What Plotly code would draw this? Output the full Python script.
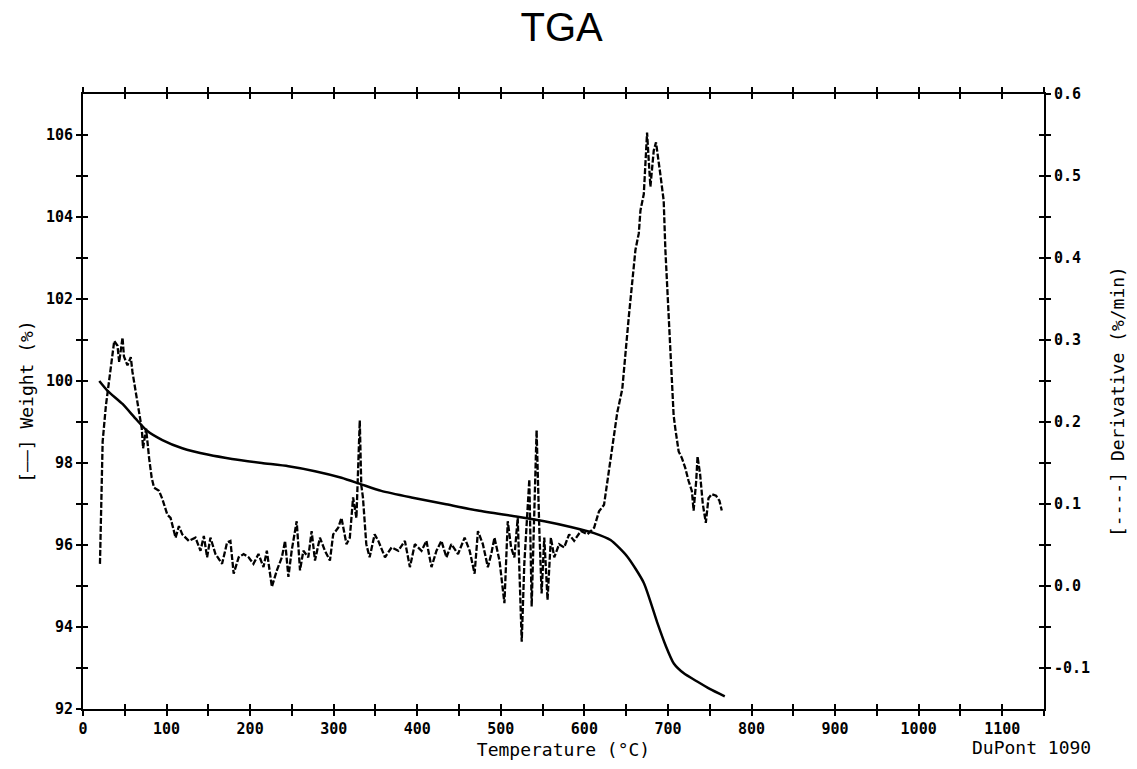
import plotly.graph_objects as go

# ---------------- data ----------------
TEMP_W = [19.5, 29.4, 47.3, 63, 77, 95, 118.8, 150.5, 178.3, 214, 245.8, 277.6,
          309.3, 333, 357, 393, 432.9, 472.5, 520.2, 552, 583.7, 611.6, 631.3,
          651.2, 671, 687, 697, 707, 719, 735, 750, 768]
WEIGHT = [100.0, 99.76, 99.44, 99.08, 98.78, 98.56, 98.36, 98.20, 98.10, 98.00,
          97.92, 97.80, 97.64, 97.48, 97.32, 97.16, 97.00, 96.84, 96.69, 96.58,
          96.44, 96.29, 96.12, 95.72, 95.08, 94.12, 93.56, 93.11, 92.87, 92.67,
          92.49, 92.31]

TEMP_D = [20.3, 21.5, 23.5, 27.4, 31.4, 35.4, 37.4, 41.3, 43.3, 47.3, 49, 53.2,
          57.2, 59.2, 63.2, 67.2, 70.3, 71.9, 75.5, 79.1, 82.2, 85, 91, 95, 100.9,
          104.8, 110.8, 114.8, 118.8, 126.7, 134.6, 140.6, 144.6, 148.5, 152.5,
          158.5, 166.4, 172.4, 176.4, 180.3, 186.3, 192.2, 198.2, 204, 210, 216,
          220, 226, 232, 238, 241.8, 245.8, 249.7, 255.7, 259.7, 263.7, 269.6,
          273.6, 277.6, 283.5, 289.5, 295.5, 299.4, 305.4, 309.3, 315.3, 319.3,
          323.2, 327.2, 331.2, 333, 335, 339, 343, 349,
          353.4, 361.4, 369.3, 377.3, 385.2, 391.2, 397.1, 405.1, 411, 417, 423,
          428.9, 434.9, 440.8, 448.8, 456.7, 462.7, 468.6, 472.6, 478.5, 484.5,
          488.5, 492.4, 498.4, 504.3, 508.3, 512.3, 516.2, 520.2, 525, 528.1,
          534.1, 536.9, 540, 542.8, 546, 548.8, 552, 555.9, 559.9, 563.9, 569.8,
          575.8, 581.7, 587.7, 595.7, 603.6, 611.6, 617.5, 623.5, 627.5, 631.4,
          635.4, 639.4, 645.3, 649.2, 653.2, 657.2, 661.1, 665.1, 667.1, 671.1,
          673, 675, 677, 679, 683, 685.7, 690.9, 694.9, 696.9, 699.7, 702.8,
          706.8, 708.8, 712.8, 716.7, 720.7, 724.7, 728.6, 730.7, 733.8, 735.4,
          738.5, 741.7, 745.3, 748.5, 752.5, 757.6, 761.6, 764.4]
DERIV = [0.027, 0.091, 0.176, 0.220, 0.249, 0.281, 0.299, 0.293, 0.273, 0.303,
         0.280, 0.269, 0.279, 0.261, 0.237, 0.212, 0.192, 0.168, 0.192, 0.156,
         0.132, 0.120, 0.116, 0.106, 0.087, 0.083, 0.059, 0.073, 0.063, 0.055,
         0.059, 0.043, 0.061, 0.035, 0.059, 0.039, 0.027, 0.053, 0.055, 0.015,
         0.035, 0.039, 0.035, 0.027, 0.039, 0.023, 0.043, -0.001, 0.019, 0.035,
         0.055, 0.011, 0.043, 0.079, 0.019, 0.043, 0.035, 0.067, 0.031, 0.059,
         0.043, 0.031, 0.063, 0.071, 0.083, 0.051, 0.059, 0.108, 0.083, 0.202,
         0.123, 0.108, 0.051, 0.035, 0.063,
         0.055, 0.035, 0.047, 0.043, 0.055, 0.023, 0.051, 0.043, 0.055, 0.023,
         0.043, 0.055, 0.035, 0.051, 0.039, 0.059, 0.043, 0.015, 0.067, 0.051,
         0.023, 0.039, 0.059, 0.031, -0.021, 0.079, 0.047, 0.035, 0.083, -0.068,
         0.027, 0.130, -0.025, 0.079, 0.190, 0.071, -0.009, 0.059, -0.017, 0.059,
         0.035, 0.051, 0.047, 0.063, 0.055, 0.067, 0.063, 0.071, 0.091, 0.099,
         0.128, 0.152, 0.184, 0.212, 0.240, 0.289, 0.329, 0.370, 0.410, 0.430,
         0.458, 0.478, 0.511, 0.553, 0.519, 0.487, 0.531, 0.541, 0.502, 0.470,
         0.410, 0.349, 0.289, 0.208, 0.192, 0.164, 0.156, 0.144, 0.128, 0.116,
         0.092, 0.128, 0.158, 0.136, 0.100, 0.077, 0.107, 0.112, 0.110, 0.104,
         0.092]

X_TICKS = [0, 100, 200, 300, 400, 500, 600, 700, 800, 900, 1000, 1100]
X_TICK_TEXT = ["0", "100", "200", "300", "400", "500", "600", "700", "800",
               "900", "1000", "1100"]
X_MINOR = [50, 150, 250, 350, 450, 550, 650, 750, 850, 950, 1050, 1150]
W_TICKS = [92, 94, 96, 98, 100, 102, 104, 106]
W_TICK_TEXT = ["92", "94", "96", "98", "100", "102", "104", "106"]
W_MINOR = [93, 95, 97, 99, 101, 103, 105]
D_TICKS = [-0.1, 0.0, 0.1, 0.2, 0.3, 0.4, 0.5, 0.6]
D_TICK_TEXT = ["-0.1", "0.0", "0.1", "0.2", "0.3", "0.4", "0.5", "0.6"]
D_MINOR = [-0.05, 0.05, 0.15, 0.25, 0.35, 0.45, 0.55]

X_RANGE = [0, 1150]
W_RANGE = [92, 107]
D_RANGE = [-0.15, 0.6]

TICK_FONT = dict(family="DejaVu Sans Mono", size=15, color="black", weight="bold")
TITLE_FONT = dict(family="DejaVu Sans Mono", size=18, color="black")

fig = go.Figure()

fig.add_trace(go.Scatter(x=TEMP_W, y=WEIGHT, mode="lines", xaxis="x", yaxis="y",
                         line=dict(color="black", width=2.5, shape="spline",
                                   smoothing=0.6),
                         showlegend=False, hoverinfo="skip"))
fig.add_trace(go.Scatter(x=TEMP_D, y=DERIV, mode="lines", xaxis="x", yaxis="y2",
                         line=dict(color="black", width=2.3, dash="6px,2px"),
                         showlegend=False, hoverinfo="skip"))
# empty helper traces so that the "inside" half of the crossing ticks is drawn
fig.add_trace(go.Scatter(x=[], y=[], xaxis="x3", yaxis="y3", showlegend=False,
                         hoverinfo="skip"))
fig.add_trace(go.Scatter(x=[], y=[], xaxis="x3", yaxis="y4", showlegend=False,
                         hoverinfo="skip"))

tick_common = dict(tickcolor="black", tickwidth=1.5, ticklen=5,
                   showgrid=False, zeroline=False)

fig.update_layout(
    width=1137, height=769,
    margin=dict(l=83, r=89, t=94, b=52),
    paper_bgcolor="white", plot_bgcolor="white",
    title=dict(text="TGA", x=0.494, xref="container", xanchor="center",
               y=1 - 27 / 769, yref="container", yanchor="middle",
               font=dict(family="Liberation Sans", size=40, color="black")),
    xaxis=dict(range=X_RANGE, tickmode="array", tickvals=X_TICKS,
               ticktext=X_TICK_TEXT, ticks="outside",
               minor=dict(tickmode="array", tickvals=X_MINOR, ticks="outside",
                          ticklen=5, tickwidth=1.5, tickcolor="black"),
               showline=True, linewidth=2, linecolor="black", mirror="ticks",
               tickfont=TICK_FONT,
               title=dict(text="Temperature (°C)", font=TITLE_FONT, standoff=6),
               **tick_common),
    xaxis3=dict(range=X_RANGE, overlaying="x", matches="x", anchor="y3",
                side="bottom", tickmode="array", tickvals=X_TICKS, ticks="inside",
                minor=dict(tickmode="array", tickvals=X_MINOR, ticks="inside",
                           ticklen=5, tickwidth=1.5, tickcolor="black"),
                showline=False, mirror="ticks", showticklabels=False,
                **tick_common),
    yaxis=dict(range=W_RANGE, tickmode="array", tickvals=W_TICKS,
               ticktext=W_TICK_TEXT, ticks="outside",
               minor=dict(tickmode="array", tickvals=W_MINOR, ticks="outside",
                          ticklen=5, tickwidth=1.5, tickcolor="black"),
               showline=True, linewidth=2, linecolor="black",
               tickfont=TICK_FONT,
               title=dict(text="[——] Weight (%)", font=TITLE_FONT, standoff=8),
               **tick_common),
    yaxis2=dict(range=D_RANGE, overlaying="y", side="right", anchor="x",
                tickmode="array", tickvals=D_TICKS, ticktext=D_TICK_TEXT,
                ticks="outside",
                minor=dict(tickmode="array", tickvals=D_MINOR, ticks="outside",
                           ticklen=5, tickwidth=1.5, tickcolor="black"),
                showline=True, linewidth=2, linecolor="black",
                tickfont=TICK_FONT,
                title=dict(text="[----] Derivative (%/min)", font=TITLE_FONT,
                           standoff=22),
                **tick_common),
    yaxis3=dict(range=W_RANGE, overlaying="y", matches="y", side="left",
                anchor="x3", tickmode="array", tickvals=W_TICKS, ticks="inside",
                minor=dict(tickmode="array", tickvals=W_MINOR, ticks="inside",
                           ticklen=5, tickwidth=1.5, tickcolor="black"),
                showline=False, showticklabels=False, **tick_common),
    yaxis4=dict(range=D_RANGE, overlaying="y", matches="y2", side="right",
                anchor="x3", tickmode="array", tickvals=D_TICKS, ticks="inside",
                minor=dict(tickmode="array", tickvals=D_MINOR, ticks="inside",
                           ticklen=5, tickwidth=1.5, tickcolor="black"),
                showline=False, showticklabels=False, **tick_common),
    annotations=[dict(text="DuPont 1090", xref="paper", yref="paper",
                      x=1.0515, y=-0.0625, xanchor="right", yanchor="middle",
                      showarrow=False, font=TITLE_FONT)],
)

fig.write_html("out.html")
